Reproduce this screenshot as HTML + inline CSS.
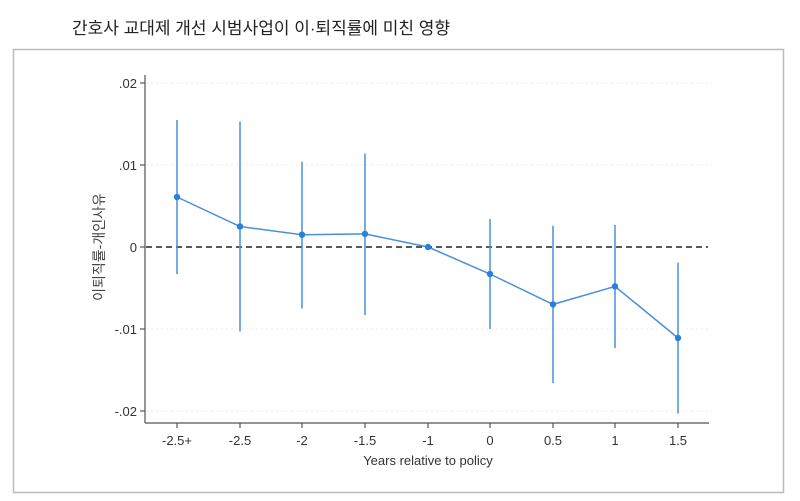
<!DOCTYPE html>
<html><head><meta charset="utf-8"><style>
html,body{margin:0;padding:0;background:#fff;width:800px;height:501px;overflow:hidden}
</style></head><body>
<svg width="800" height="501" xmlns="http://www.w3.org/2000/svg" style="display:block">
<text x="72" y="34" font-family="'Liberation Sans','Noto Sans CJK KR',sans-serif" font-size="17" fill="#222">간호사 교대제 개선 시범사업이 이·퇴직률에 미친 영향</text>
<rect x="13.5" y="49.5" width="770" height="443" fill="#fff" stroke="#bbb" stroke-width="1.5"/>
<g stroke="#eee" stroke-width="1" stroke-dasharray="2,3">
<line x1="146" y1="83" x2="708" y2="83"/><line x1="146" y1="165" x2="708" y2="165"/>
<line x1="146" y1="329" x2="708" y2="329"/><line x1="146" y1="411" x2="708" y2="411"/>
</g>
<line x1="146" y1="247" x2="708" y2="247" stroke="#222" stroke-width="1.5" stroke-dasharray="6,4"/>
<g stroke="#555" stroke-width="1.2">
<line x1="145" y1="75" x2="145" y2="423"/><line x1="145" y1="423" x2="709" y2="423"/>
<line x1="140" y1="83" x2="145" y2="83"/><line x1="140" y1="165" x2="145" y2="165"/><line x1="140" y1="247" x2="145" y2="247"/><line x1="140" y1="329" x2="145" y2="329"/><line x1="140" y1="411" x2="145" y2="411"/>
<line x1="177" y1="423" x2="177" y2="428"/><line x1="240" y1="423" x2="240" y2="428"/><line x1="302" y1="423" x2="302" y2="428"/><line x1="365" y1="423" x2="365" y2="428"/><line x1="428" y1="423" x2="428" y2="428"/><line x1="490" y1="423" x2="490" y2="428"/><line x1="553" y1="423" x2="553" y2="428"/><line x1="615" y1="423" x2="615" y2="428"/><line x1="678" y1="423" x2="678" y2="428"/>
</g>
<g font-family="'Liberation Sans',sans-serif" font-size="13" fill="#333" text-anchor="end">
<text x="137" y="88">.02</text><text x="137" y="170">.01</text><text x="137" y="252">0</text><text x="137" y="334">-.01</text><text x="137" y="416">-.02</text>
</g>
<g font-family="'Liberation Sans',sans-serif" font-size="13" fill="#333" text-anchor="middle">
<text x="177" y="445">-2.5+</text><text x="240" y="445">-2.5</text><text x="302" y="445">-2</text><text x="365" y="445">-1.5</text><text x="428" y="445">-1</text><text x="490" y="445">0</text><text x="553" y="445">0.5</text><text x="615" y="445">1</text><text x="678" y="445">1.5</text>
<text x="428" y="465">Years relative to policy</text>
</g>
<text transform="translate(104,247) rotate(-90)" text-anchor="middle" font-family="'Liberation Sans','Noto Sans CJK KR',sans-serif" font-size="14" fill="#444">이퇴직률-개인사유</text>
<g stroke="#4a90d9" stroke-width="1.5">
<line x1="177" y1="120" x2="177" y2="274"/><line x1="240" y1="121.5" x2="240" y2="331.5"/><line x1="302" y1="161.7" x2="302" y2="308.5"/><line x1="365" y1="153.5" x2="365" y2="315"/><line x1="490" y1="219" x2="490" y2="329"/><line x1="553" y1="225.7" x2="553" y2="383"/><line x1="615" y1="225" x2="615" y2="348"/><line x1="678" y1="262.6" x2="678" y2="413.5"/>
<polyline fill="none" points="177,197 240,226.5 302,234.7 365,233.9 428,247 490,274 553,304.4 615,286.4 678,338"/>
</g>
<g fill="#2a7fd9">
<circle cx="177" cy="197" r="3.2"/><circle cx="240" cy="226.5" r="3.2"/><circle cx="302" cy="234.7" r="3.2"/><circle cx="365" cy="233.9" r="3.2"/><circle cx="428" cy="247" r="3.2"/><circle cx="490" cy="274" r="3.2"/><circle cx="553" cy="304.4" r="3.2"/><circle cx="615" cy="286.4" r="3.2"/><circle cx="678" cy="338" r="3.2"/>
</g>
</svg>
</body></html>
